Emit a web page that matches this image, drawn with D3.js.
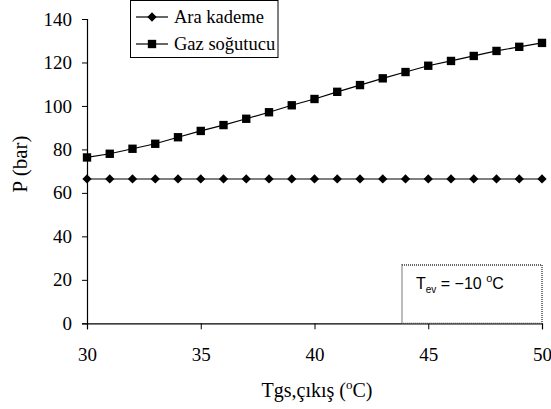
<!DOCTYPE html>
<html>
<head>
<meta charset="utf-8">
<script src="https://cdn.jsdelivr.net/npm/d3@7"></script>
<style>
  body { margin: 0; background: #fff; }
  text { font-family: "Liberation Serif", "Times New Roman", serif; fill: #000; }
</style>
</head>
<body>
<svg width="551" height="409"></svg>
<script>
// Data
const temps = d3.range(30, 51)   // Tgs,çıkış 30..50 °C
const araKademe = [66.4, 66.4, 66.4, 66.4, 66.4, 66.4, 66.4, 66.4, 66.4, 66.4, 66.4,
                   66.4, 66.4, 66.4, 66.4, 66.4, 66.4, 66.4, 66.4, 66.4, 66.4]
const gazSogutucu = [76.3, 78.0, 80.3, 82.6, 85.6, 88.5, 91.2, 94.1, 97.1, 100.3, 103.2,
                     106.5, 109.6, 112.7, 115.6, 118.5, 120.7, 123.0, 125.3, 127.2, 129.0]
const xTicks = [30, 35, 40, 45, 50]
const yTicks = [0, 20, 40, 60, 80, 100, 120, 140]

const svg = d3.select("svg")

const x = d3.scaleLinear().domain([30, 50]).range([87, 542])
const y = d3.scaleLinear().domain([0, 140]).range([323.3, 19])

// Axes
svg.append("g")
    .attr("transform", "translate(87,0)")
    .call(d3.axisLeft(y).tickValues(yTicks).tickSize(5).tickPadding(10))
    .attr("font-family", "Liberation Serif")
    .attr("font-size", 19)
svg.append("g")
    .attr("transform", "translate(0,323.3)")
    .call(d3.axisBottom(x).tickValues(xTicks).tickSize(6).tickPadding(18))
    .attr("font-family", "Liberation Serif")
    .attr("font-size", 19)

svg.selectAll(".domain").attr("stroke", "#000").attr("stroke-width", 1.2)
svg.selectAll(".tick line").attr("stroke", "#000")
svg.selectAll(".tick text").attr("fill", "#000")

// Text box (covers the x axis line, like the original)
svg.append("rect")
    .attr("x", 402).attr("y", 265)
    .attr("width", 140).attr("height", 58.3)
    .attr("fill", "#fff")
    .attr("stroke", "#333")
    .attr("stroke-width", 1.3)
    .attr("stroke-dasharray", "1,1")

const tev = svg.append("text")
    .attr("x", 416).attr("y", 289)
    .style("font-family", "'Liberation Sans', Arial, sans-serif")
    .style("font-size", "16px")
tev.append("tspan").text("T")
tev.append("tspan").text("ev").attr("dy", 4).style("font-size", "10px")
tev.append("tspan").text(" = \u221210 ").attr("dy", -4)
tev.append("tspan").text("o").attr("dy", -7).style("font-size", "11px")
tev.append("tspan").text("C").attr("dy", 7)

// Lines
const line = d3.line()
    .x((d, i) => x(temps[i]))
    .y(d => y(d))

svg.append("path")
    .datum(araKademe)
    .attr("d", line)
    .attr("fill", "none")
    .attr("stroke", "#000")
    .attr("stroke-width", 1.2)

svg.append("path")
    .datum(gazSogutucu)
    .attr("d", line)
    .attr("fill", "none")
    .attr("stroke", "#000")
    .attr("stroke-width", 1.2)

const diamond = d3.symbol().type(d3.symbolDiamond2).size(55)
const square = d3.symbol().type(d3.symbolSquare).size(70)

svg.selectAll(".dia")
    .data(araKademe)
    .join("path")
      .attr("transform", (d, i) => `translate(${x(temps[i])},${y(d)})`)
      .attr("d", diamond)
      .attr("fill", "#000")

svg.selectAll(".sq")
    .data(gazSogutucu)
    .join("path")
      .attr("transform", (d, i) => `translate(${x(temps[i])},${y(d)})`)
      .attr("d", square)
      .attr("fill", "#000")

// Legend
const legend = svg.append("g")
legend.append("rect")
    .attr("x", 130.5).attr("y", 0.5)
    .attr("width", 147.5).attr("height", 57)
    .attr("fill", "#fff")
    .attr("stroke", "#000")
    .attr("stroke-width", 1)

const legendItems = [
  { name: "Ara kademe", sym: diamond, cy: 17 },
  { name: "Gaz soğutucu", sym: square, cy: 44 }
]
legendItems.forEach(it => {
  legend.append("line")
      .attr("x1", 136).attr("x2", 168)
      .attr("y1", it.cy).attr("y2", it.cy)
      .attr("stroke", "#000").attr("stroke-width", 1.2)
  legend.append("path")
      .attr("transform", `translate(152,${it.cy})`)
      .attr("d", it.sym)
      .attr("fill", "#000")
  legend.append("text")
      .attr("x", 174).attr("y", it.cy + 6)
      .style("font-size", "18.5px")
      .text(it.name)
})

// Axis titles
svg.append("text")
    .attr("transform", "translate(27,164) rotate(-90)")
    .attr("text-anchor", "middle")
    .style("font-size", "21px")
    .text("P (bar)")

const xt = svg.append("text")
    .attr("x", 317).attr("y", 397)
    .attr("text-anchor", "middle")
    .style("font-size", "20px")
xt.append("tspan").text("Tgs,çıkış (")
xt.append("tspan").text("o").attr("dy", -8).style("font-size", "13px")
xt.append("tspan").text("C)").attr("dy", 8)
</script>
</body>
</html>
